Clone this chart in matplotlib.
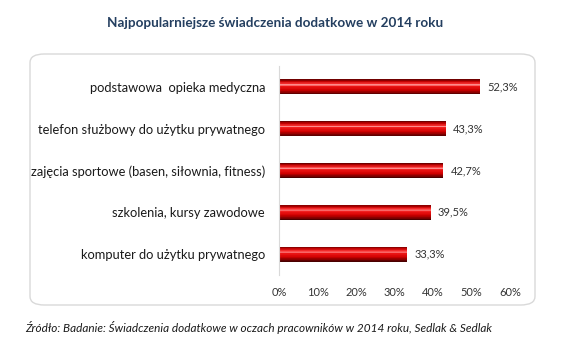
import numpy as np
import matplotlib
matplotlib.use('Agg')
import matplotlib.pyplot as plt
from matplotlib.patches import FancyBboxPatch
from matplotlib.colors import LinearSegmentedColormap

categories = ['podstawowa  opieka medyczna',
              'telefon służbowy do użytku prywatnego',
              'zajęcia sportowe (basen, siłownia, fitness)',
              'szkolenia, kursy zawodowe',
              'komputer do użytku prywatnego']
values = [52.3, 43.3, 42.7, 39.5, 33.3]
labels = ['52,3%', '43,3%', '42,7%', '39,5%', '33,3%']
ticks = [0, 10, 20, 30, 40, 50, 60]

title = 'Najpopularniejsze świadczenia dodatkowe w 2014 roku'
source = 'Źródło: Badanie: Świadczenia dodatkowe w oczach pracowników w 2014 roku, Sedlak & Sedlak'

plt.rcParams['font.family'] = ['Lato', 'DejaVu Sans']

fig = plt.figure(figsize=(5.72, 3.44), dpi=100)
fig.patch.set_facecolor('white')

# rounded frame around the plot
box = FancyBboxPatch((30 / 572, 1 - 305 / 344), 505 / 572, 251 / 344,
                     boxstyle='round,pad=0,rounding_size=0.025',
                     transform=fig.transFigure, facecolor='white',
                     edgecolor='#d9d9d9', linewidth=1.0, zorder=-5)
fig.patches.append(box)

fig.text(0.481, 1 - 23 / 344, title, ha='center', va='center',
         fontsize=9.7, fontweight='bold', color='#243f60')
fig.text(0.452, 1 - 327 / 344, source, ha='center', va='center',
         fontsize=8.45, style='italic', color='#1a1a1a')

ax = fig.add_axes([279 / 572, 1 - 275 / 344, 231 / 572, 209 / 344])
ax.set_facecolor('none')
ax.set_zorder(2)

y = np.arange(len(values))
bh = 0.36
# vertical shading of the bars: top -> bottom
shade = LinearSegmentedColormap.from_list('shade', [
    (0.0, '#700000'), (0.12, '#c00000'), (0.28, '#f83030'),
    (0.36, '#ff9a9a'), (0.44, '#f01818'), (0.7, '#d00000'),
    (0.88, '#880000'), (1.0, '#4a0000')])
n = 24
for k in range(n):
    off = bh / 2 - (k + 0.5) * bh / n
    ax.barh(y - off, values, height=bh / n + 0.002,
            color=shade(k / (n - 1)), linewidth=0, zorder=2)

for yi, v, lab in zip(y, values, labels):
    ax.text(v + 1.8, yi, lab, va='center', ha='left', fontsize=8.0,
            color='#333333')

ax.set_xlim(0, 60)
ax.set_ylim(len(values) - 0.5, -0.5)
ax.set_xticks(ticks)
ax.set_xticklabels([f'{t}%' for t in ticks], fontsize=7.9, color='#333333')
ax.set_yticks(y)
ax.set_yticklabels(categories, fontsize=9.3, color='#1a1a1a')
ax.tick_params(length=0, pad=10)
ax.tick_params(axis='x', pad=9)
for s in ['top', 'right', 'bottom']:
    ax.spines[s].set_visible(False)
ax.spines['left'].set_color('#d9d9d9')

fig.savefig('out.png', dpi=100)
